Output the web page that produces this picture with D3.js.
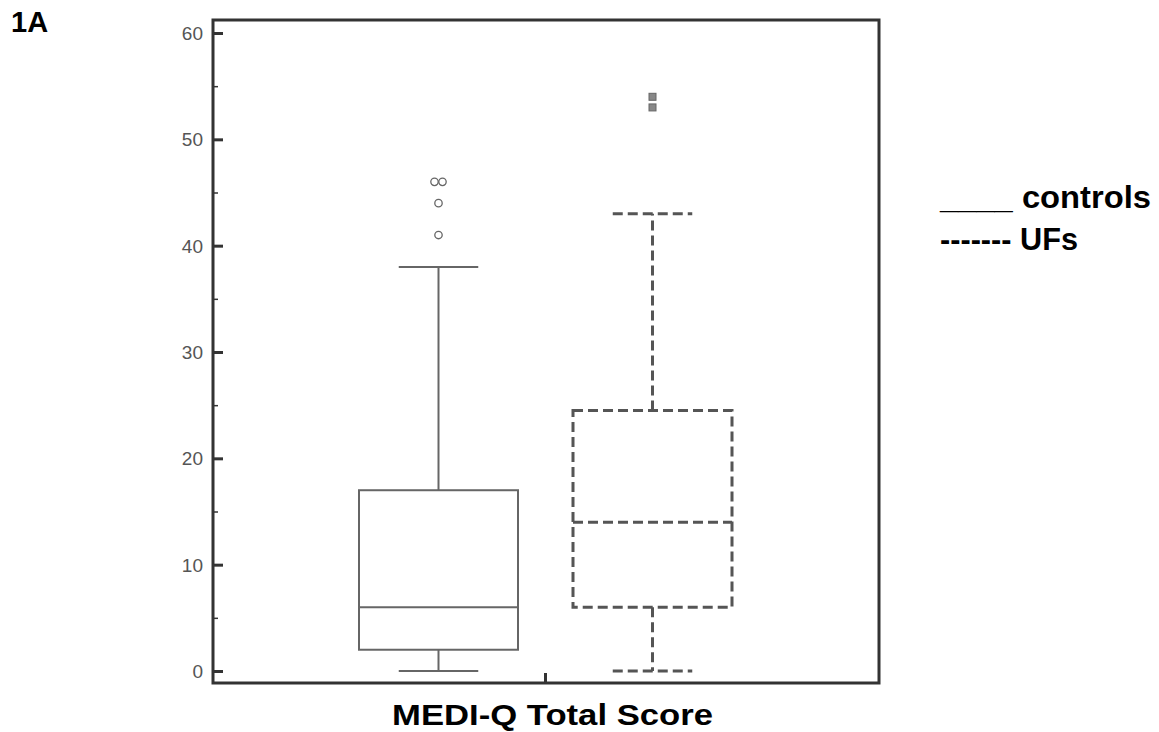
<!DOCTYPE html>
<html><head><meta charset="utf-8">
<script src="https://cdn.jsdelivr.net/npm/d3@7"></script>
<style>body{margin:0;background:#fff}svg{display:block}</style>
</head><body>
<svg id="c" width="1159" height="732"></svg>
<script>
const groups = ["controls", "UFs"];
const whiskerLow = [0, 0];
const q1 = [2, 6];
const median = [6, 14];
const q3 = [17, 24.5];
const whiskerHigh = [38, 43];
const outliersControls = [41, 44, 46, 46];
const outliersUFs = [53, 54];
const yTicks = [0, 10, 20, 30, 40, 50, 60];
const yMinor = [5, 15, 25, 35, 45, 55];

const svg = d3.select("#c");
const L = 213, R = 879, T = 20, B = 683;
const y = d3.scaleLinear().domain([0, 60]).range([671, 33]);
const x = d3.scalePoint().domain(groups).range([438.5, 652.5]);
const bw = 159;
const xc = g => x(g);
const font = "Liberation Sans, Arial, Helvetica, sans-serif";

// frame
svg.append("rect").attr("x", L).attr("y", T).attr("width", R - L).attr("height", B - T)
  .attr("fill", "none").attr("stroke", "#333").attr("stroke-width", 3);

// y axis ticks
const ax = svg.append("g").attr("transform", `translate(${L},0)`)
  .call(d3.axisRight(y).tickValues(yTicks).tickSize(10).tickFormat(""));
ax.select(".domain").remove();
ax.selectAll("line").attr("stroke", "#333").attr("stroke-width", 3);
const axm = svg.append("g").attr("transform", `translate(${L},0)`)
  .call(d3.axisRight(y).tickValues(yMinor).tickSize(5).tickFormat(""));
axm.select(".domain").remove();
axm.selectAll("line").attr("stroke", "#333").attr("stroke-width", 1.5);
svg.append("g").selectAll("text").data(yTicks).join("text")
  .attr("x", 203).attr("y", d => y(d)).attr("dy", "0.36em").attr("text-anchor", "end")
  .attr("font-family", font).attr("font-size", 19).attr("fill", "#555")
  .text(d => d);

// bottom centre tick
const xMid = (xc(groups[0]) + xc(groups[1])) / 2;
svg.append("line").attr("x1", xMid).attr("x2", xMid).attr("y1", B).attr("y2", B - 10)
  .attr("stroke", "#333").attr("stroke-width", 3);

const styles = [
  {stroke: "#666", sw: 2, dash: null},
  {stroke: "#555", sw: 3, dash: "10,5"}
];

groups.forEach((g, i) => {
  const s = styles[i];
  const cx = xc(g);
  const grp = svg.append("g").attr("fill", "none").attr("stroke", s.stroke).attr("stroke-width", s.sw);
  if (s.dash) grp.attr("stroke-dasharray", s.dash);
  grp.append("line").attr("x1", cx).attr("x2", cx).attr("y1", y(q3[i])).attr("y2", y(whiskerHigh[i]));
  grp.append("line").attr("x1", cx).attr("x2", cx).attr("y1", y(q1[i])).attr("y2", y(whiskerLow[i]));
  grp.append("line").attr("x1", cx - bw / 4).attr("x2", cx + bw / 4).attr("y1", y(whiskerHigh[i])).attr("y2", y(whiskerHigh[i]));
  grp.append("line").attr("x1", cx - bw / 4).attr("x2", cx + bw / 4).attr("y1", y(whiskerLow[i])).attr("y2", y(whiskerLow[i]));
  grp.append("rect").attr("x", cx - bw / 2).attr("width", bw)
    .attr("y", y(q3[i])).attr("height", y(q1[i]) - y(q3[i]));
  grp.append("line").attr("x1", cx - bw / 2).attr("x2", cx + bw / 2).attr("y1", y(median[i])).attr("y2", y(median[i]));
});

// outliers controls (circles; duplicates side by side)
const cx0 = xc(groups[0]);
const counts = {};
outliersControls.forEach(v => { counts[v] = (counts[v] || 0) + 1; });
const placed = {};
outliersControls.forEach(v => {
  const n = counts[v];
  placed[v] = placed[v] || 0;
  const off = n > 1 ? (placed[v] - (n - 1) / 2) * 8 : 0;
  placed[v]++;
  svg.append("circle").attr("cx", cx0 + off).attr("cy", y(v)).attr("r", 3.7)
    .attr("fill", "none").attr("stroke", "#666").attr("stroke-width", 1.3);
});
const cx1 = xc(groups[1]);
svg.selectAll(".sq").data(outliersUFs).join("rect").attr("class", "sq")
  .attr("x", cx1 - 3.5).attr("y", d => y(d) - 3.5).attr("width", 7).attr("height", 7)
  .attr("fill", "#888").attr("stroke", "#666").attr("stroke-width", 1);

// labels
svg.append("text").attr("x", 11).attr("y", 32).attr("font-family", font).attr("font-weight", "bold")
  .attr("font-size", 29).attr("fill", "#000").text("1A");
svg.append("text").attr("x", 392).attr("y", 725).attr("font-family", font)
  .attr("font-weight", "bold").attr("font-size", 30).attr("fill", "#000")
  .attr("textLength", 321).attr("lengthAdjust", "spacingAndGlyphs").text("MEDI-Q Total Score");
svg.append("text").attr("x", 940).attr("y", 208).attr("font-family", font).attr("font-weight", "bold")
  .attr("font-size", 31).attr("fill", "#000")
  .attr("textLength", 211).attr("lengthAdjust", "spacingAndGlyphs").text("____ " + groups[0]);
svg.append("text").attr("x", 940).attr("y", 250).attr("font-family", font).attr("font-weight", "bold")
  .attr("font-size", 31).attr("fill", "#000")
  .attr("textLength", 138).attr("lengthAdjust", "spacingAndGlyphs").text("------- " + groups[1]);
</script>
</body></html>
